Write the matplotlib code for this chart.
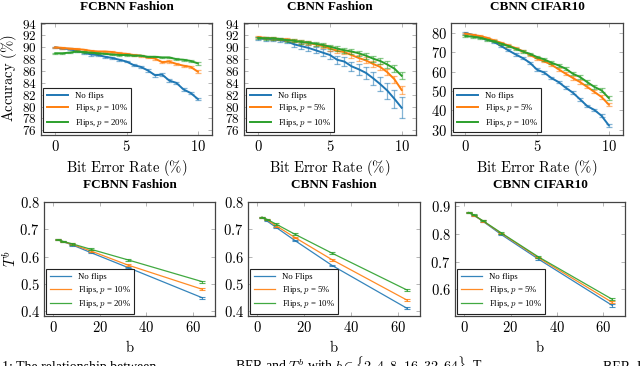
import matplotlib
matplotlib.use("Agg")
import matplotlib.pyplot as plt
from matplotlib.ticker import FuncFormatter

plt.rcParams['font.family'] = ['Liberation Serif', 'DejaVu Serif']
plt.rcParams['mathtext.fontset'] = 'cm'

# ---------------- data ----------------
ber = [0, 0.5, 1, 1.5, 2, 2.5, 3, 3.5, 4, 4.5, 5, 5.5, 6, 6.5, 7, 7.5, 8, 8.5, 9, 9.5, 10]

# FCBNN Fashion (accuracy %)
fc_noflip = [90.0, 89.8, 89.7, 89.4, 89.1, 88.8, 88.7, 88.4, 88.2, 87.9, 87.6, 87.0, 86.7, 86.1, 85.3, 85.4, 84.4, 84.0, 82.9, 82.3, 81.3]
fc_p10 = [90.0, 89.9, 89.8, 89.7, 89.6, 89.4, 89.3, 89.3, 89.2, 89.0, 88.9, 88.7, 88.6, 88.3, 88.1, 87.5, 87.6, 87.2, 86.9, 86.7, 85.9]
fc_p20 = [89.0, 89.0, 89.1, 89.3, 89.2, 89.1, 89.0, 88.9, 88.8, 88.7, 88.7, 88.6, 88.6, 88.4, 88.4, 88.3, 88.3, 88.0, 87.9, 87.7, 87.3]
fc_noflip_err = [0.1, 0.1, 0.15, 0.15, 0.15, 0.2, 0.15, 0.15, 0.15, 0.15, 0.15, 0.2, 0.2, 0.2, 0.25, 0.2, 0.2, 0.2, 0.25, 0.2, 0.2]
fc_p10_err = [0.1, 0.1, 0.15, 0.15, 0.15, 0.2, 0.15, 0.15, 0.15, 0.15, 0.15, 0.15, 0.15, 0.15, 0.2, 0.2, 0.2, 0.2, 0.2, 0.2, 0.3]
fc_p20_err = [0.1, 0.1, 0.1, 0.15, 0.1, 0.1, 0.1, 0.1, 0.1, 0.1, 0.1, 0.1, 0.1, 0.1, 0.1, 0.1, 0.1, 0.15, 0.15, 0.15, 0.2]

# CBNN Fashion (accuracy %)
cf_noflip = [91.5, 91.4, 91.3, 91.2, 91.0, 90.5, 90.2, 89.9, 89.5, 89.1, 88.7, 87.9, 87.6, 86.8, 86.3, 85.7, 84.8, 83.8, 82.7, 81.3, 79.8]
cf_p5 = [91.7, 91.6, 91.5, 91.4, 91.3, 91.1, 90.9, 90.7, 90.5, 90.2, 89.8, 89.4, 89.2, 88.7, 88.2, 87.8, 87.2, 86.7, 85.8, 84.6, 82.8]
cf_p10 = [91.6, 91.5, 91.5, 91.4, 91.2, 91.1, 90.9, 90.8, 90.6, 90.4, 90.1, 89.8, 89.5, 89.3, 89.0, 88.6, 88.1, 87.7, 87.1, 86.4, 85.2]
cf_noflip_err = [0.3, 0.3, 0.3, 0.35, 0.35, 0.4, 0.45, 0.45, 0.5, 0.55, 0.6, 0.7, 0.75, 0.8, 0.9, 1.0, 1.1, 1.2, 1.35, 1.5, 1.8]
cf_p5_err = [0.2, 0.2, 0.2, 0.25, 0.25, 0.25, 0.3, 0.3, 0.3, 0.35, 0.35, 0.4, 0.4, 0.45, 0.45, 0.5, 0.5, 0.5, 0.55, 0.55, 0.6]
cf_p10_err = [0.2, 0.2, 0.2, 0.25, 0.25, 0.25, 0.3, 0.3, 0.3, 0.35, 0.35, 0.4, 0.4, 0.45, 0.45, 0.5, 0.5, 0.5, 0.55, 0.55, 0.6]

# CBNN CIFAR10 (accuracy %)
cc_noflip = [80.0, 79.1, 77.9, 76.7, 75.4, 73.3, 71.1, 69.0, 67.1, 64.7, 61.1, 59.6, 56.8, 54.7, 51.8, 49.2, 45.8, 42.3, 40.3, 37.3, 32.4]
cc_p5 = [79.7, 79.1, 78.5, 77.6, 76.2, 75.0, 73.6, 72.3, 70.7, 68.8, 66.8, 65.4, 63.7, 61.3, 59.0, 56.8, 54.7, 52.2, 49.6, 47.0, 43.1]
cc_p10 = [78.5, 78.1, 77.6, 76.6, 75.7, 74.5, 73.3, 71.9, 70.5, 69.3, 67.6, 66.4, 64.7, 63.3, 61.6, 59.0, 57.3, 54.7, 52.2, 50.4, 46.5]
cc_noflip_err = [0.5, 0.5, 0.5, 0.5, 0.5, 0.5, 0.6, 0.6, 0.6, 0.6, 0.6, 0.6, 0.6, 0.6, 0.7, 0.7, 0.7, 0.7, 0.7, 0.8, 0.8]
cc_p5_err = [0.5, 0.5, 0.5, 0.5, 0.5, 0.5, 0.6, 0.6, 0.6, 0.6, 0.6, 0.6, 0.7, 0.7, 0.7, 0.8, 0.8, 0.8, 0.8, 0.9, 1.0]
cc_p10_err = [0.5, 0.5, 0.5, 0.5, 0.5, 0.5, 0.6, 0.6, 0.6, 0.6, 0.7, 0.7, 0.7, 0.7, 0.8, 0.8, 0.8, 0.9, 0.9, 1.0, 1.1]

# T^b vs b
b_vals = [2, 4, 8, 16, 32, 64]
t_fc_noflip = [0.661, 0.655, 0.643, 0.615, 0.560, 0.449]
t_fc_p10 = [0.661, 0.655, 0.645, 0.621, 0.569, 0.480]
t_fc_p20 = [0.661, 0.656, 0.647, 0.627, 0.588, 0.508]
t_cf_noflip = [0.744, 0.731, 0.707, 0.659, 0.567, 0.410]
t_cf_p5 = [0.744, 0.735, 0.713, 0.670, 0.588, 0.440]
t_cf_p10 = [0.744, 0.737, 0.719, 0.682, 0.612, 0.477]
t_cc_noflip = [0.876, 0.867, 0.845, 0.797, 0.709, 0.542]
t_cc_p5 = [0.876, 0.867, 0.846, 0.801, 0.714, 0.553]
t_cc_p10 = [0.876, 0.868, 0.847, 0.803, 0.717, 0.564]
t_err = [0.002, 0.002, 0.003, 0.003, 0.003, 0.004]

titles = ['FCBNN Fashion', 'CBNN Fashion', 'CBNN CIFAR10']
labels_fc = ['No flips', 'Flips, $p$ = 10%', 'Flips, $p$ = 20%']
labels_cb = ['No flips', 'Flips, $p$ = 5%', 'Flips, $p$ = 10%']
labels_cb2 = ['No Flips', 'Flips, $p$ = 5%', 'Flips, $p$ = 10%']

colors = ['#1f77b4', '#ff7f0e', '#2ca02c']

W, H = 640, 366
fig = plt.figure(figsize=(W / 100, H / 100), dpi=100)


def add_ax(l, t, r, b):
    return fig.add_axes([l / W, 1 - b / H, (r - l) / W, (b - t) / H])


math_fmt = FuncFormatter(lambda v, p: f'${v:g}$')


def style(ax, ysize=10.5):
    for s in ax.spines.values():
        s.set_color('#444444')
        s.set_linewidth(0.9)
    ax.tick_params(direction='in', top=True, right=True, length=3, width=0.6,
                   color='#aaaaaa', labelsize=10.5, pad=3)
    ax.tick_params(axis='y', labelsize=ysize)
    ax.xaxis.set_major_formatter(math_fmt)
    ax.yaxis.set_major_formatter(math_fmt)


def make_legend(ax, handles):
    leg = ax.legend(handles=handles, loc='lower left', fontsize=6.3, frameon=True,
                    fancybox=False, edgecolor='#222222', borderaxespad=0.25,
                    handlelength=2.4, handletextpad=0.8, labelspacing=0.3,
                    borderpad=0.4, framealpha=1)
    leg.get_frame().set_linewidth(0.8)


top_boxes = [(41, 23, 212, 134.5), (244, 23, 416, 134.5), (451, 23, 623, 134.5)]
bot_boxes = [(44, 202, 215, 316), (248, 202, 420, 316), (455, 202, 625, 316)]

top_series = [
    ([fc_noflip, fc_p10, fc_p20], [fc_noflip_err, fc_p10_err, fc_p20_err], labels_fc, (75.3, 94.1), list(range(76, 95, 2))),
    ([cf_noflip, cf_p5, cf_p10], [cf_noflip_err, cf_p5_err, cf_p10_err], labels_cb, (75.3, 94.1), list(range(76, 95, 2))),
    ([cc_noflip, cc_p5, cc_p10], [cc_noflip_err, cc_p5_err, cc_p10_err], labels_cb, (27.6, 85.2), [30, 40, 50, 60, 70, 80]),
]

for i, (box, (ys, errs, labs, ylim, yt)) in enumerate(zip(top_boxes, top_series)):
    ax = add_ax(*box)
    handles = []
    for y, e, c, lab in zip(ys, errs, colors, labs):
        ax.errorbar(ber, y, yerr=e, color=c, ecolor=c, elinewidth=0.9, capsize=2.5,
                    capthick=0.9, lw=0, alpha=0.55)
        h, = ax.plot(ber, y, color=c, lw=1.4, label=lab)
        handles.append(h)
    ax.set_xlim(-1, 11)
    ax.set_ylim(*ylim)
    ax.set_xticks([0, 5, 10])
    ax.set_yticks(yt)
    style(ax, ysize=9.5 if i < 2 else 10.5)
    ax.set_title(titles[i], fontsize=9.5, fontweight='bold', pad=9)
    ax.set_xlabel(r'$\mathrm{Bit\ Error\ Rate\ (\%)}$', fontsize=10.5, labelpad=3)
    if i == 0:
        ax.set_ylabel(r'$\mathrm{Accuracy\ (\%)}$', fontsize=10.5)
        ax.yaxis.set_label_coords(-0.13, 0.5)
    make_legend(ax, handles)

bot_series = [
    ([t_fc_noflip, t_fc_p10, t_fc_p20], labels_fc, (0.382, 0.8), [0.4, 0.5, 0.6, 0.7, 0.8]),
    ([t_cf_noflip, t_cf_p5, t_cf_p10], labels_cb2, (0.382, 0.8), [0.4, 0.5, 0.6, 0.7, 0.8]),
    ([t_cc_noflip, t_cc_p5, t_cc_p10], labels_cb, (0.504, 0.914), [0.6, 0.7, 0.8, 0.9]),
]
for i, (box, (ys, labs, ylim, yt)) in enumerate(zip(bot_boxes, bot_series)):
    ax = add_ax(*box)
    handles = []
    for y, c, lab in zip(ys, colors, labs):
        ax.errorbar(b_vals, y, yerr=t_err, color=c, ecolor=c, elinewidth=0.8,
                    capsize=2, capthick=0.8, lw=0, alpha=0.8)
        h, = ax.plot(b_vals, y, color=c, lw=0.9, label=lab, alpha=0.9)
        handles.append(h)
    ax.set_xlim(-4, 69.5)
    ax.set_ylim(*ylim)
    ax.set_xticks([0, 20, 40, 60])
    ax.set_yticks(yt)
    style(ax)
    ax.set_title(titles[i], fontsize=9.5, fontweight='bold', pad=10)
    ax.set_xlabel(r'$\mathrm{b}$', fontsize=10.5, labelpad=3)
    if i == 0:
        ax.set_ylabel(r'$T^b$', fontsize=10.5)
        ax.yaxis.set_label_coords(-0.15, 0.5)
    make_legend(ax, handles)

# caption fragments (cut at bottom edge)
cap_y = (H - 371) / H
fig.text(2 / W, cap_y, '1: The relationship between', fontsize=10, va='baseline')
fig.text(235 / W, cap_y, r'BER and $T^b$ with $b \in \{2, 4, 8, 16, 32, 64\}$. T',
         fontsize=10, va='baseline')
fig.text(603 / W, cap_y, 'BER. I', fontsize=10, va='baseline')

fig.savefig('out.png', dpi=100)
